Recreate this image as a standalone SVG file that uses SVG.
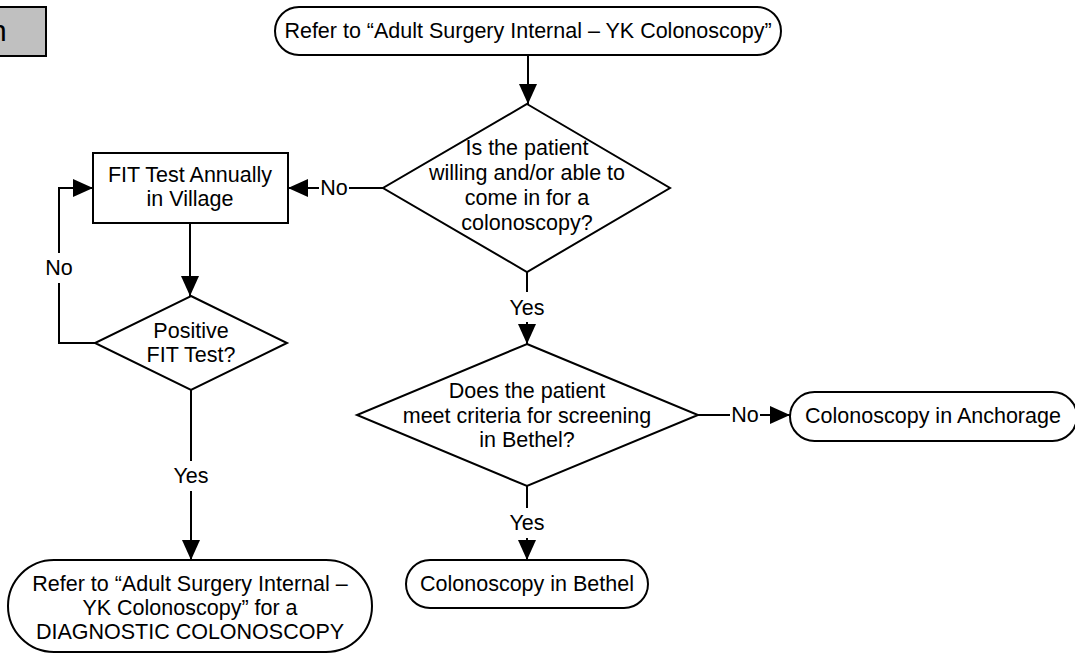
<svg xmlns="http://www.w3.org/2000/svg" width="1075" height="655" viewBox="0 0 1075 655">
<style>
.shape{fill:#fff;stroke:#000;stroke-width:2}
.gray{fill:#c0c0c0;stroke:#000;stroke-width:2}
.t{font-family:"Liberation Sans",Arial,sans-serif;font-size:21.5px;fill:#000;text-anchor:middle}
.c{fill:none;stroke:#000;stroke-width:2}
</style>
<defs>
<marker id="arr" markerUnits="userSpaceOnUse" markerWidth="20" markerHeight="18" refX="20" refY="9" orient="auto">
<path d="M0,0 L20,9 L0,18 z" fill="#000"/>
</marker>
</defs>
<rect width="1075" height="655" fill="#fff"/>
<g id="legend">
<rect class="gray" x="-10" y="7" width="56" height="49"/>
<text x="-10" y="41" font-family="Liberation Sans, Arial, sans-serif" font-size="30" fill="#000">n</text>
</g>
<g id="start">
<rect class="shape" x="275" y="7" width="506" height="48" rx="24"/>
<text class="t" x="528" y="38">Refer to “Adult Surgery Internal – YK Colonoscopy”</text>
</g>
<g id="q-willing">
<polygon class="shape" points="527,104 670,188 527,272 383,188"/>
<text class="t" x="527" y="155">Is the patient</text>
<text class="t" x="527" y="180">willing and/or able to</text>
<text class="t" x="527" y="205">come in for a</text>
<text class="t" x="527" y="230">colonoscopy?</text>
</g>
<g id="fit-test">
<rect class="shape" x="93" y="153" width="195" height="70"/>
<text class="t" x="190" y="182">FIT Test Annually</text>
<text class="t" x="190" y="206">in Village</text>
</g>
<g id="q-positive">
<polygon class="shape" points="191,296 287,343 191,390 95,343"/>
<text class="t" x="191" y="338">Positive</text>
<text class="t" x="191" y="362">FIT Test?</text>
</g>
<g id="q-criteria">
<polygon class="shape" points="527,344 698,415 527,486 357,415"/>
<text class="t" x="527" y="398">Does the patient</text>
<text class="t" x="527" y="423">meet criteria for screening</text>
<text class="t" x="527" y="447">in Bethel?</text>
</g>
<g id="anchorage">
<rect class="shape" x="790" y="392" width="287" height="49" rx="24.5"/>
<text class="t" x="933" y="423">Colonoscopy in Anchorage</text>
</g>
<g id="bethel">
<rect class="shape" x="406" y="560" width="242" height="48" rx="24"/>
<text class="t" x="527" y="591">Colonoscopy in Bethel</text>
</g>
<g id="diagnostic">
<rect class="shape" x="8" y="560" width="364" height="92" rx="46"/>
<text class="t" x="190" y="591">Refer to “Adult Surgery Internal –</text>
<text class="t" x="190" y="615">YK Colonoscopy” for a</text>
<text class="t" x="190" y="639">DIAGNOSTIC COLONOSCOPY</text>
</g>
<g id="connectors">
<path class="c" d="M528,55 V104" marker-end="url(#arr)"/>
<path class="c" d="M383,188 H349"/>
<path class="c" d="M319,188 H288" marker-end="url(#arr)"/>
<text class="t" x="334" y="195">No</text>
<path class="c" d="M190,223 V296" marker-end="url(#arr)"/>
<path class="c" d="M95,343 H59 V283"/>
<path class="c" d="M59,253 V188 H93" marker-end="url(#arr)"/>
<text class="t" x="59" y="275">No</text>
<path class="c" d="M191,390 V461"/>
<path class="c" d="M191,491 V560" marker-end="url(#arr)"/>
<text class="t" x="191" y="483">Yes</text>
<path class="c" d="M527,272 V292"/>
<path class="c" d="M527,322 V344" marker-end="url(#arr)"/>
<text class="t" x="527" y="315">Yes</text>
<path class="c" d="M698,415 H730"/>
<path class="c" d="M760,415 H790" marker-end="url(#arr)"/>
<text class="t" x="745" y="422">No</text>
<path class="c" d="M527,486 V508"/>
<path class="c" d="M527,538 V560" marker-end="url(#arr)"/>
<text class="t" x="527" y="530">Yes</text>
</g>
</svg>
